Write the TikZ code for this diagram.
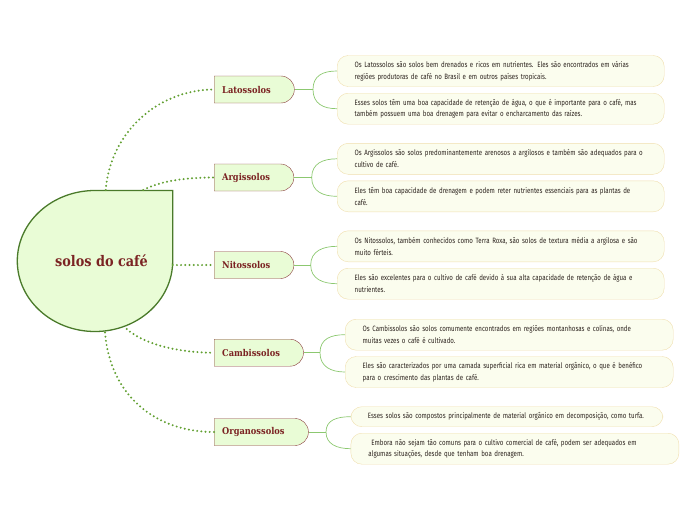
\documentclass[tikz,border=0pt]{standalone}
\usepackage{fontspec}
\usetikzlibrary{shapes.misc}
\newfontfamily\titlefont[FakeStretch=0.88]{DejaVu Serif}
\newfontfamily\leaffont[FakeStretch=0.8]{Fira Sans}
\definecolor{rootfill}{HTML}{E9FCD6}
\definecolor{rootline}{HTML}{4A7A2A}
\definecolor{wine}{HTML}{7B2323}
\definecolor{boxline}{HTML}{8B3E3E}
\definecolor{dotgreen}{HTML}{62A032}
\definecolor{twiggreen}{HTML}{8CC870}
\definecolor{leaffill}{HTML}{FBFDEE}
\definecolor{leafline}{HTML}{F0DFAE}
\definecolor{leaftext}{HTML}{2E2520}
\begin{document}
\begin{tikzpicture}[x=1pt,y=-1pt,
  soil/.style={draw=boxline,fill=rootfill,rounded rectangle,rounded rectangle west arc=none,
    minimum height=27pt,inner xsep=8pt,anchor=west,text=wine,execute at end node={\hspace*{15pt}},
    font=\titlefont\bfseries\fontsize{9.4}{11}\selectfont},
  leaf/.style={draw=leafline,fill=leaffill,rounded corners=11pt,minimum height=31pt,inner xsep=17.5pt,
    anchor=west,align=left,text=leaftext,font=\leaffont\fontsize{7.7}{11.7}\selectfont},
  branch/.style={draw=dotgreen,line width=2.2pt,dash pattern=on 0pt off 4.2pt,line cap=round},
  stem/.style={draw=twiggreen,line width=1pt},
  twig/.style={draw=twiggreen,line width=0.7pt}]
\useasboundingbox (0,0) rectangle (696,520);

\draw[rootline,fill=rootfill,line width=1.3pt] (95,190.5) arc[start angle=90,end angle=360,x radius=77.7,y radius=-70.5] -- (172.7,190.5) -- cycle;
\node[text=wine,font=\titlefont\bfseries\fontsize{14.6}{16}\selectfont] (solos) at (101.5,261) {solos do café};
\coordinate (s-lat) at (105.7,190);
\coordinate (s-arg) at (143.3,190);
\coordinate (s-nit) at (172.7,265);
\coordinate (s-camb) at (126.7,329);
\coordinate (s-org) at (105,332.5);

\node[soil] (lat) at (214,89.5) {Latossolos};
\node[soil] (arg) at (214,177.5) {Argissolos};
\node[soil] (nit) at (214,265) {Nitossolos};
\node[soil] (camb) at (214,352.7) {Cambissolos};
\node[soil] (org) at (214,432) {Organossolos};

\draw[branch] (s-lat) .. controls (110,135) and (155,90) .. (lat.west);
\draw[branch] (s-arg) .. controls (160,181) and (185,177.5) .. (arg.west);
\draw[branch] (s-nit) -- (nit.west);
\draw[branch] (s-camb) .. controls (145,345) and (180,352.7) .. (camb.west);
\draw[branch] (s-org) .. controls (110,395) and (155,432) .. (org.west);

\node[leaf,text width=292pt] (lat1) at (337,71) {Os Latossolos são solos bem drenados e ricos em nutrientes. Eles são encontrados em várias\\regiões produtoras de café no Brasil e em outros países tropicais.};
\node[leaf,text width=292pt] (lat2) at (337,108.7) {Esses solos têm uma boa capacidade de retenção de água, o que é importante para o café, mas\\também possuem uma boa drenagem para evitar o encharcamento das raízes.};
\node[leaf,text width=292pt] (arg1) at (337,158.8) {Os Argissolos são solos predominantemente arenosos a argilosos e também são adequados para o\\cultivo de café.};
\node[leaf,text width=292pt] (arg2) at (337,196.3) {Eles têm boa capacidade de drenagem e podem reter nutrientes essenciais para as plantas de\\café.};
\node[leaf,text width=292pt] (nit1) at (337,246.3) {Os Nitossolos, também conhecidos como Terra Roxa, são solos de textura média a argilosa e são\\muito férteis.};
\node[leaf,text width=292pt] (nit2) at (337,283.7) {Eles são excelentes para o cultivo de café devido à sua alta capacidade de retenção de água e\\nutrientes.};
\node[leaf,text width=293pt] (camb1) at (345,334.7) {Os Cambissolos são solos comumente encontrados em regiões montanhosas e colinas, onde\\muitas vezes o café é cultivado.};
\node[leaf,text width=293pt] (camb2) at (345,372) {Eles são caracterizados por uma camada superficial rica em material orgânico, o que é benéfico\\para o crescimento das plantas de café.};
\node[leaf,text width=278pt,minimum height=20pt,inner xsep=17pt] (org1) at (350.7,416.7) {Esses solos são compostos principalmente de material orgânico em decomposição, como turfa.};
\node[leaf,text width=293pt] (org2) at (350.7,448.7) {\hspace{3pt}Embora não sejam tão comuns para o cultivo comercial de café, podem ser adequados em\\algumas situações, desde que tenham boa drenagem.};

\coordinate (lat-j) at (313,89.5);
\coordinate (arg-j) at (311.7,177.5);
\coordinate (nit-j) at (310.7,265);
\coordinate (camb-j) at (320,352.7);
\coordinate (org-j) at (326,432);

\draw[stem] (lat.east) -- (lat-j);
\draw[twig] (lat-j) .. controls +(0,-14) and +(-14,0) .. (lat1.west);
\draw[twig] (lat-j) .. controls +(0,14) and +(-14,0) .. (lat2.west);
\draw[stem] (arg.east) -- (arg-j);
\draw[twig] (arg-j) .. controls +(0,-14) and +(-14,0) .. (arg1.west);
\draw[twig] (arg-j) .. controls +(0,14) and +(-14,0) .. (arg2.west);
\draw[stem] (nit.east) -- (nit-j);
\draw[twig] (nit-j) .. controls +(0,-14) and +(-14,0) .. (nit1.west);
\draw[twig] (nit-j) .. controls +(0,14) and +(-14,0) .. (nit2.west);
\draw[stem] (camb.east) -- (camb-j);
\draw[twig] (camb-j) .. controls +(0,-14) and +(-14,0) .. (camb1.west);
\draw[twig] (camb-j) .. controls +(0,14) and +(-14,0) .. (camb2.west);
\draw[stem] (org.east) -- (org-j);
\draw[twig] (org-j) .. controls +(0,-12) and +(-14,0) .. (org1.west);
\draw[twig] (org-j) .. controls +(0,12) and +(-14,0) .. (org2.west);
\end{tikzpicture}
\end{document}
